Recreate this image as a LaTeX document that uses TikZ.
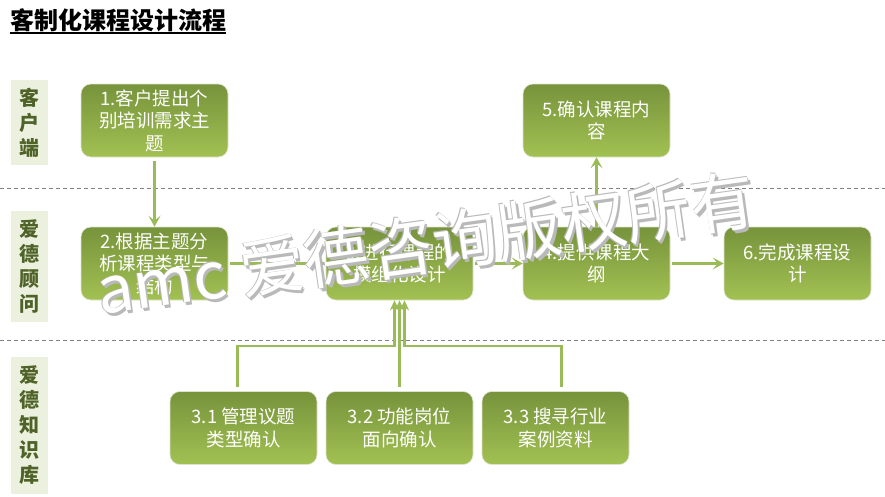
\documentclass[tikz,border=0pt]{standalone}
\usepackage{fontspec}
\setmainfont{Noto Sans CJK SC}
\usetikzlibrary{arrows.meta,calc}
\definecolor{leafdark}{HTML}{77933C}
\definecolor{leaflight}{HTML}{A2C152}
\definecolor{leafline}{HTML}{9BBB59}
\definecolor{lanefill}{HTML}{EBF1DE}
\definecolor{lanetext}{HTML}{4F6228}
\definecolor{rulegray}{HTML}{808080}
\tikzset{
    stagebox/.style={rounded corners=10pt, minimum width=147pt, minimum height=73pt,
        top color=leafdark, bottom color=leaflight, draw=leafdark!25!white, line width=0.6pt,
        text=white, align=center, inner sep=0pt, font=\fontsize{18.5}{22.5}\selectfont},
    lanebox/.style={fill=lanefill, minimum width=37pt, inner sep=0pt, text=lanetext,
        align=center, font=\bfseries\fontsize{20}{25}\selectfont},
    flow/.style={draw=leafline, line width=3pt, -{Stealth[length=11pt,width=12pt,inset=5pt]}},
    feed/.style={draw=leafline, line width=2.5pt, -{Stealth[length=10pt,width=9pt,inset=3pt]}},
    lanerule/.style={draw=rulegray, line width=0.9pt, dash pattern=on 4pt off 3pt},
    wmark/.style={anchor=base west, rotate=8, inner sep=0pt, font=\fontsize{65}{65}\selectfont},
}
\newcommand{\flowstage}[4]{
    \node[stagebox] (#1) at (#2,#3) {#4};
}
\newcommand{\lanetag}[5]{
    \node[lanebox, minimum height=#4pt] (#1) at (#2,#3) {#5};
}

\begin{document}
\begin{tikzpicture}[x=1pt, y=-1pt]
    \useasboundingbox (0,0) rectangle (885,496);
    % title
    \node[anchor=base west, inner sep=0pt, font=\bfseries\fontsize{24}{24}\selectfont] (ttl) at (10,29) {客制化课程设计流程};
    \draw[line width=1.8pt] ([yshift=-4pt]ttl.base west) -- ([yshift=-4pt]ttl.base east);
    % lanes
    \draw[lanerule] (0,188) -- (885,188);
    \draw[lanerule] (0,340) -- (885,340);
    \lanetag{c1}{29.5}{122.5}{85}{客\\户\\端}
    \lanetag{c2}{29.5}{266.5}{111}{爱\\德\\顾\\问}
    \lanetag{c3}{29.5}{425.5}{137}{爱\\德\\知\\识\\库}
    % steps
    \flowstage{s1}{154.5}{120.5}{1.客户提出个\\别培训需求主\\题}
    \flowstage{s2}{154.5}{263.5}{2.根据主题分\\析课程类型与\\结构}
    \flowstage{s3}{399.5}{263.5}{3.进行课程的\\模组化设计}
    \flowstage{s4}{596.5}{263.5}{4.提供课程大\\纲}
    \flowstage{s5}{596.5}{120.5}{5.确认课程内\\容}
    \flowstage{s6}{797.5}{263.5}{6.完成课程设\\计}
    \flowstage{k1}{243.5}{428}{3.1 管理议题\\类型确认}
    \flowstage{k2}{399.5}{428}{3.2 功能岗位\\面向确认}
    \flowstage{k3}{555.5}{428}{3.3 搜寻行业\\案例资料}
    % connectors
    \draw[flow, shorten <=4pt] (s1) -- (s2);
    \draw[flow, shorten <=2pt] (s2) -- (s3);
    \draw[flow, shorten <=2pt] (s3) -- (s4);
    \draw[flow] (s4) -- (s5);
    \draw[flow, shorten <=2pt] (s4) -- (s6);
    \coordinate (bus) at (0,346);
    \draw[feed, shorten <=4pt] ([xshift=-6pt]k1.north) |- ([xshift=-5pt]s3.south |- bus) -- ([xshift=-5pt]s3.south);
    \draw[feed, shorten <=4pt] (k2) -- (s3);
    \draw[feed, shorten <=4pt] ([xshift=6pt]k3.north) |- ([xshift=5pt]s3.south |- bus) -- ([xshift=5pt]s3.south);
    % watermark
    \foreach \dx/\dy in {0.8/0.8, -0.8/-0.8, 2.5/2.5}
        \node[wmark, text=gray!55] at (100+\dx,315+\dy) {amc 爱德咨询版权所有};
    \node[wmark, text=white] (mark) at (100,315) {amc 爱德咨询版权所有};
\end{tikzpicture}
\end{document}
